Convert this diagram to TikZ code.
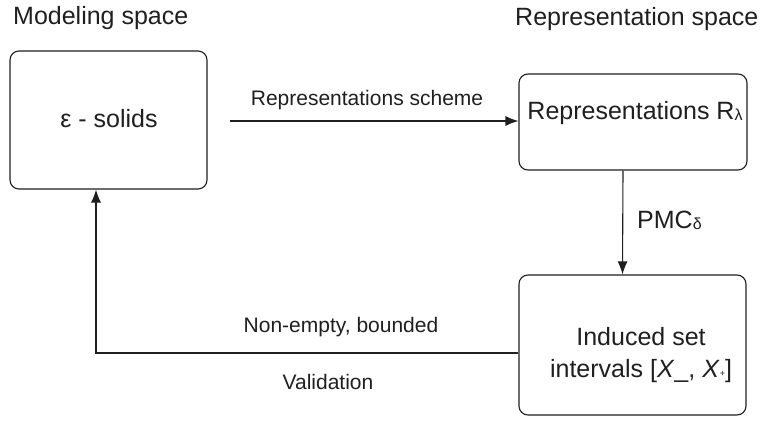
\documentclass[tikz,border=0pt]{standalone}
\usepackage{fontspec}
\setmainfont{Liberation Sans}
\usetikzlibrary{arrows.meta}
\colorlet{ink}{black!88}
\tikzset{
  box/.style = {draw=ink, line width=1.1pt, rounded corners=9pt},
  lbl/.style = {text=ink, font=\fontsize{21}{24}\selectfont, inner sep=0pt},
  big/.style = {text=ink, font=\fontsize{25}{30}\selectfont, inner sep=0pt}
}
\tikzset{>={Latex[length=13pt,width=10pt]}}
\newcommand{\smallsym}[1]{\raisebox{-1pt}{\fontsize{16}{16}\selectfont #1}}

\begin{document}
\begin{tikzpicture}[x=1pt,y=-1pt]
  \useasboundingbox (0,0) rectangle (763,421);
  % spaces
  \node[big,anchor=base west] (modeling) at (13,24) {Modeling space};
  \node[big,anchor=base west] (represent) at (515,25) {Representation space};
  % boxes
  \node[box,minimum width=197pt,minimum height=138pt] (solids)  at (108.5,120) {};
  \node[box,minimum width=228pt,minimum height=96pt]  (rep)     at (633,122) {};
  \node[box,minimum width=227pt,minimum height=140pt] (induced) at (632.5,345) {};
  \node[big,anchor=base] (solidstext) at (109,127) {ε - solids};
  \node[big,anchor=base] (reptext)    at (635,119) {Representations R\smallsym{λ}};
  \node[big,anchor=base] (indtext1)   at (641,345) {Induced set};
  \node[big,anchor=base] (indtext2)   at (641,377) {intervals [\textit{X}\_, \textit{X}\raisebox{1pt}{\fontsize{9}{9}\selectfont +}]};
  % connectors
  \coordinate (start) at (230,121);
  \coordinate (corner) at (96,353);
  \draw[->,ink,line width=1.1pt] (start) -- (rep.west |- start);
  \node[lbl,anchor=base] (scheme) at (367,105) {Representations scheme};
  \draw[->,ink,line width=1.1pt] ([xshift=-10pt]rep.south) -- ([xshift=-10pt]induced.north);
  \node[big,anchor=base west] (pmc) at (637,228) {PMC\smallsym{δ}};
  \draw[->,ink,line width=1.1pt] (induced.west |- corner) -- (corner) -- (solids.south -| corner);
  \node[lbl,anchor=base] (bounded) at (341,332) {Non-empty, bounded};
  \node[lbl,anchor=base] (valid)   at (328,389) {Validation};
\end{tikzpicture}
\end{document}
